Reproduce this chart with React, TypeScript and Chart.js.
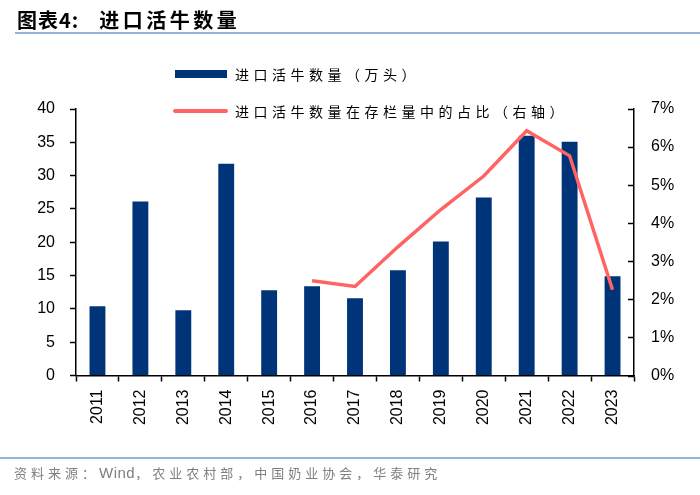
import React, { useEffect, useRef } from "react";
import { Chart, registerables } from "chart.js";

Chart.register(...registerables);

const years = ["2011", "2012", "2013", "2014", "2015", "2016", "2017", "2018", "2019", "2020", "2021", "2022", "2023"];
const importCattle = [10.4, 26.1, 9.8, 31.8, 12.8, 13.4, 11.6, 15.8, 20.1, 26.7, 36.0, 35.1, 14.9];
const importShare = [null, null, null, null, null, 2.49, 2.34, 3.38, 4.36, 5.24, 6.43, 5.77, 2.25];
const barLabel = "进口活牛数量（万头）";
const lineLabel = "进口活牛数量在存栏量中的占比（右轴）";
const titleText = "图表4:";
const titleMain = "进口活牛数量";
const sourcePre = "资料来源：";
const sourceWind = "Wind";
const sourcePost = "，农业农村部，中国奶业协会，华泰研究";

const BAR_COLOR = "#003478";
const LINE_COLOR = "#FF6464";
const CJK = "'Noto Sans CJK SC', 'Noto Sans', sans-serif";

const rightTicksPlugin = {
  id: "rightTicks",
  afterDraw(chart: any) {
    const s = chart.scales.y1;
    const ctx = chart.ctx;
    ctx.save();
    ctx.strokeStyle = "#000";
    ctx.lineWidth = 1.5;
    s.ticks.forEach((t: any) => {
      const y = Math.round(s.getPixelForValue(t.value)) + 0.5;
      ctx.beginPath();
      ctx.moveTo(s.left - 6, y);
      ctx.lineTo(s.left, y);
      ctx.stroke();
    });
    ctx.restore();
  },
};

export default function App() {
  const ref = useRef<HTMLCanvasElement>(null);
  useEffect(() => {
    if (!ref.current) return;
    Chart.defaults.font.family = "'Liberation Sans', Arial, sans-serif";
    const chart = new Chart(ref.current, {
      type: "bar",
      data: {
        labels: years,
        datasets: [
          {
            type: "line",
            label: lineLabel,
            data: importShare,
            yAxisID: "y1",
            borderColor: LINE_COLOR,
            backgroundColor: LINE_COLOR,
            borderWidth: 3.5,
            pointRadius: 0,
            tension: 0,
            order: 0,
          } as any,
          {
            type: "bar",
            label: barLabel,
            data: importCattle,
            yAxisID: "y",
            backgroundColor: BAR_COLOR,
            borderWidth: 0,
            barPercentage: 0.37,
            categoryPercentage: 1,
            order: 1,
          },
        ],
      },
      options: {
        animation: false,
        responsive: false,
        devicePixelRatio: 1,
        layout: { padding: { left: 0, right: 26, top: 109, bottom: 39.5 } },
        plugins: { legend: { display: false }, tooltip: { enabled: false } },
        scales: {
          x: {
            grid: {
              display: true,
              drawOnChartArea: false,
              tickLength: 6,
              tickColor: "#000",
              tickWidth: 1.5,
            },
            border: { color: "#000", width: 1.5 },
            ticks: {
              minRotation: 90,
              maxRotation: 90,
              padding: 8,
              color: "#000",
              font: { size: 16 },
            },
            afterFit: (s: any) => {
              s.height = 80;
            },
          },
          y: {
            position: "left",
            min: 0,
            max: 40,
            grid: {
              display: true,
              drawOnChartArea: false,
              tickLength: 6,
              tickColor: "#000",
              tickWidth: 1.5,
            },
            border: { color: "#000", width: 1.5 },
            ticks: { stepSize: 5, padding: 15, color: "#000", font: { size: 16 } },
            afterFit: (s: any) => {
              s.width = 76;
            },
          },
          y1: {
            position: "right",
            min: 0,
            max: 7,
            grid: { display: false, drawTicks: false },
            border: { color: "#000", width: 1.5 },
            ticks: {
              stepSize: 1,
              padding: 17,
              color: "#000",
              font: { size: 16 },
              callback: (v: any) => v + "%",
            },
            afterFit: (s: any) => {
              s.width = 40;
            },
          },
        },
      },
      plugins: [rightTicksPlugin],
    });
    return () => chart.destroy();
  }, []);

  const legendText: React.CSSProperties = {
    position: "absolute",
    left: 235,
    fontFamily: CJK,
    fontSize: 14,
    letterSpacing: 4.5,
    color: "#000",
    lineHeight: "20px",
    whiteSpace: "nowrap",
  };

  return (
    <div style={{ position: "fixed", left: 0, top: 0, width: 700, height: 495, background: "#fff", overflow: "hidden" }}>
      <canvas ref={ref} width={700} height={495} style={{ position: "absolute", left: 0, top: 0 }} />
      <div
        style={{
          position: "absolute",
          left: 17,
          top: 7,
          fontFamily: CJK,
          fontWeight: 700,
          fontSize: 20,
          lineHeight: "26px",
          color: "#000",
          whiteSpace: "nowrap",
        }}
      >
        <span style={{ letterSpacing: 1 }}>{titleText}</span>
        <span style={{ marginLeft: 20, letterSpacing: 3.5 }}>{titleMain}</span>
      </div>
      <div style={{ position: "absolute", left: 15, top: 32, width: 685, height: 2, background: "#95B3D7" }} />
      <div style={{ position: "absolute", left: 175, top: 70, width: 52, height: 8, background: BAR_COLOR }} />
      <div style={{ ...legendText, top: 64 }}>{barLabel}</div>
      <div style={{ position: "absolute", left: 173, top: 109, width: 55, height: 4, background: LINE_COLOR, borderRadius: 2 }} />
      <div style={{ ...legendText, top: 101 }}>{lineLabel}</div>
      <div style={{ position: "absolute", left: 0, top: 457, width: 700, height: 2, background: "#95B3D7" }} />
      <div
        style={{
          position: "absolute",
          left: 14,
          top: 463,
          fontFamily: CJK,
          fontSize: 13,
          letterSpacing: 4,
          color: "#808080",
          lineHeight: "20px",
          whiteSpace: "nowrap",
        }}
      >
        {sourcePre}
        <span style={{ fontFamily: "'Liberation Sans', Arial, sans-serif", fontSize: 15, letterSpacing: 0.5 }}>{sourceWind}</span>
        {sourcePost}
      </div>
    </div>
  );
}
